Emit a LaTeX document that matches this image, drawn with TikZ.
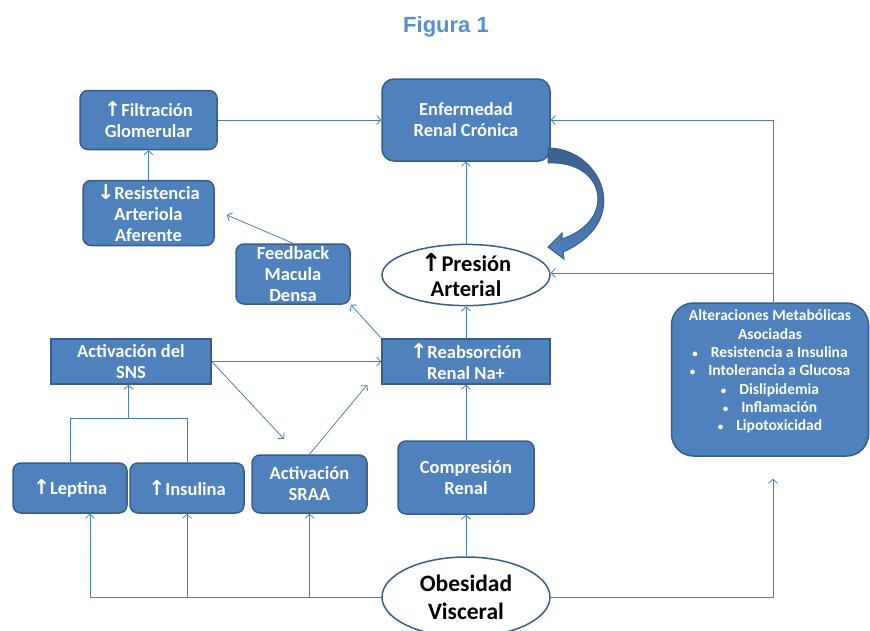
\documentclass[tikz,border=0pt]{standalone}
\usepackage{fontspec}
\setmainfont{Carlito}
\newfontfamily\titlefont{Liberation Sans}
\newfontfamily\arrowfont{DejaVu Sans}[Scale=1.1]
\usetikzlibrary{arrows.meta,positioning,shapes.geometric,calc}

\definecolor{boxfill}{HTML}{4F81BD}
\definecolor{boxline}{HTML}{385D8A}
\definecolor{linkblue}{HTML}{4A7EBB}
\definecolor{titleblue}{HTML}{558ED5}

\newcommand{\flechaup}{{\arrowfont\bfseries ↑}}
\newcommand{\flechadown}{{\arrowfont\bfseries ↓}}
\newcommand{\vineta}{{\fontsize{11}{11}\selectfont •}\hspace{13pt}}

\begin{document}
\begin{tikzpicture}
	[x=1pt,y=1pt,node distance=100pt,on grid,>={Straight Barb[length=4pt,width=9pt]},
	box/.style={rectangle,draw=boxline,fill=boxfill,line width=1.5pt,rounded corners=8pt,text=white,
		font=\bfseries\fontsize{18.5}{21}\selectfont,align=center,inner sep=0pt},
	sharpbox/.style={box,rounded corners=0pt},
	oval/.style={ellipse,draw=boxline,fill=white,line width=1.5pt,text=black,align=center,inner sep=0pt},
	link/.style={draw=linkblue,line width=0.8pt}]

	\useasboundingbox (0,0) rectangle (870,-630);
	\node [font=\titlefont\bfseries\fontsize{22}{26}\selectfont,text=titleblue,anchor=base] (titulo) at (446,-32) {Figura 1};

	% eje central
	\node [box,minimum width=168pt,minimum height=82pt,rounded corners=12pt] (erc) at (466,-120) {Enfermedad\\Renal Crónica};
	\node [oval,minimum width=168pt,minimum height=57pt,font=\bfseries\fontsize{22.5}{25}\selectfont] (pa) [below=155pt of erc] {\flechaup Presión\\Arterial};
	\node [sharpbox,minimum width=168pt,minimum height=45pt] (reab) [below=86.5pt of pa] {\flechaup Reabsorción\\Renal Na+};
	\node [box,minimum width=136pt,minimum height=73pt] (comp) [below=116pt of reab] {Compresión\\Renal};
	\node [oval,minimum width=168pt,minimum height=80pt,font=\bfseries\fontsize{23.5}{28}\selectfont] (obes) [below=119.5pt of comp] {Obesidad\\Visceral};

	% lado izquierdo
	\node [box,minimum width=137pt,minimum height=59pt] (filt) [left=317.5pt of erc] {\flechaup Filtración\\Glomerular};
	\node [box,minimum width=131pt,minimum height=65pt] (resis) [below=93pt of filt] {\flechadown Resistencia\\Arteriola\\Aferente};
	\node [box,minimum width=114pt,minimum height=60pt] (feed) [below right=61pt and 144.5pt of resis] {Feedback\\Macula\\Densa};
	\node [sharpbox,minimum width=160pt,minimum height=45pt] (sns) [left=335pt of reab] {Activación del\\SNS};
	\node [box,minimum width=114pt,minimum height=50pt] (lep) [below left=126.5pt and 61pt of sns] {\flechaup Leptina};
	\node [box,minimum width=114pt,minimum height=50pt] (ins) [right=117pt of lep] {\flechaup Insulina};
	\node [box,minimum width=115pt,minimum height=58pt] (sraa) [right=122.5pt of ins, yshift=4pt] {Activación\\SRAA};

	% lado derecho
	\node [box,minimum width=197pt,minimum height=153pt,rounded corners=22pt,font=\bfseries\fontsize{15.5}{18.3}\selectfont] (alt) [below right=18pt and 304pt of reab]
		{Alteraciones Metabólicas\\Asociadas\\\vineta Resistencia a Insulina\\\vineta Intolerancia a Glucosa\\\vineta Dislipidemia\\\vineta Inflamación\\\vineta Lipotoxicidad\\\mbox{}};

	% flecha curva
	\draw [boxline,line width=1pt,top color=boxline!90!boxfill,bottom color=boxfill]
		(548,-148) .. controls (600,-148) and (635,-220) .. (563,-252) -- (564,-259) -- (548,-247) -- (562,-233) -- (562,-239)
		.. controls (618,-220) and (605,-160) .. (548,-163) -- cycle;

	% conectores
	\draw [link,->] (filt) -- (erc);
	\draw [link,->] (resis) -- (filt);
	\draw [link,->] (feed.north) -- ([xshift=12pt,yshift=-2pt]resis.east);
	\draw [link,->] (reab.north west) -- (feed.south east);
	\draw [link,->] (pa) -- (erc);
	\draw [link,->] (reab) -- (pa);
	\draw [link,->] (comp) -- (reab);
	\draw [link,->] (obes) -- (comp);
	\draw [link,->] (sns.east) -- (reab.west);
	\draw [link,->,shorten >=21pt] (sns.east) -- ([xshift=47pt]sraa.north west);
	\draw [link,->] (sraa.north) -- ([xshift=-14pt]reab.south west);

	\coordinate (union) at ($(lep.north)!0.5!(ins.north)+(0,44)$);
	\draw [link] (lep.north) |- (union) -| (ins.north);
	\draw [link,->] (union) -- (union |- sns.south);

	\draw [link,->] (obes.west) -| ([xshift=20pt]lep.south);
	\draw [link,->] (obes.west) -| (ins.south);
	\draw [link,->] (obes.west) -| (sraa.south);

	\coordinate (alttop) at ([xshift=3pt]alt.north);
	\draw [link,->] (obes.east) -| ([xshift=3pt,yshift=-22pt]alt.south);
	\draw [link,->] (alttop) |- (erc.east);
	\draw [link,->] (alttop) |- ([yshift=2pt]pa.east);
\end{tikzpicture}
\end{document}
